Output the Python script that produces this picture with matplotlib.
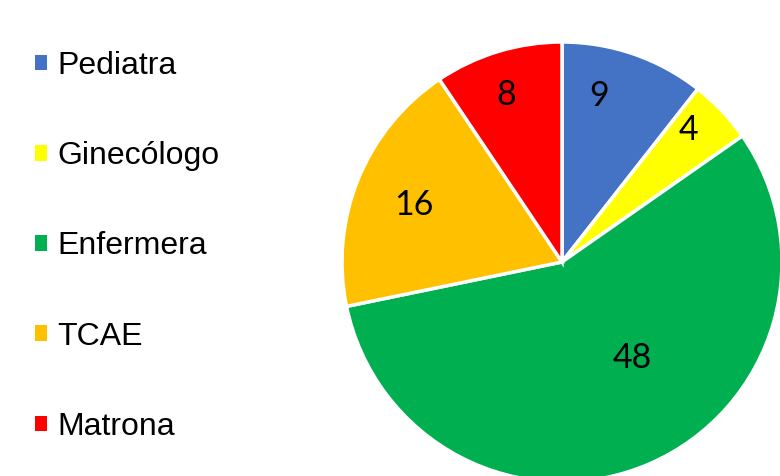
import matplotlib
matplotlib.use("Agg")
import matplotlib.pyplot as plt
from matplotlib.patches import Patch
import numpy as np

categories = ["Pediatra", "Ginecólogo", "Enfermera", "TCAE", "Matrona"]
values = [9, 4, 48, 16, 8]
colors = ["#4472C4", "#FFFF00", "#00B050", "#FFC000", "#FF0000"]
label_radius = [0.775, 0.83, 0.54, 0.72, 0.80]
label_angle_offset = [6.5, 2.7, 12.7, 1.1, 1.6]

fig = plt.figure(figsize=(7.8, 4.76), dpi=100)
ax = fig.add_axes([0, 0, 1, 1])

cx, cy, R = 562, 214, 220
wedges, _ = ax.pie(values, colors=colors, startangle=90, counterclock=False,
                   center=(cx, cy), radius=R, frame=True,
                   wedgeprops=dict(edgecolor="white", linewidth=2.5))
ax.set_xlim(0, 780)
ax.set_ylim(0, 476)
ax.set_aspect("equal")
ax.axis("off")

for w, v, r, off in zip(wedges, values, label_radius, label_angle_offset):
    ang = np.deg2rad((w.theta1 + w.theta2) / 2 + off)
    ax.text(cx + r * R * np.cos(ang), cy + r * R * np.sin(ang), str(v),
            ha="center", va="center", fontsize=24.5, family="Lato", color="black")

handles = [Patch(facecolor=c, edgecolor="none") for c in colors]
fig.legend(handles, categories, loc="upper left", bbox_to_anchor=(0.045, 0.893),
           frameon=False, prop={"family": "Liberation Sans", "size": 23},
           handlelength=0.375, handleheight=0.375, handletextpad=0.31,
           labelspacing=1.885, borderaxespad=0, borderpad=0)

fig.savefig("out.png", dpi=100)
